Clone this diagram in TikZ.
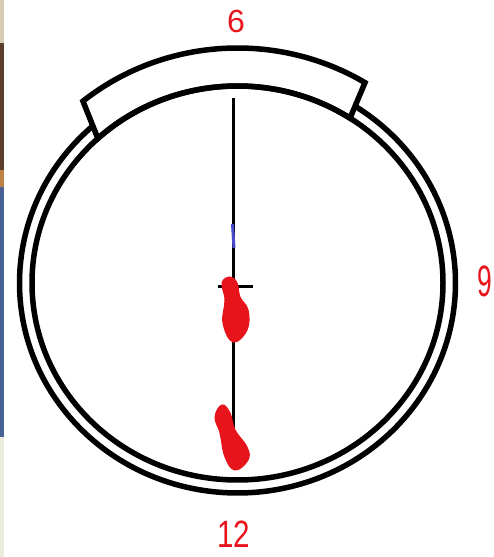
\documentclass[tikz,border=0pt]{standalone}
\usepackage{fontspec}
\setmainfont{Liberation Sans}
\usetikzlibrary{calc}
\definecolor{penred}{HTML}{E8141C}
\definecolor{penblue}{HTML}{4848C8}
\begin{document}
\begin{tikzpicture}[x=1pt,y=1pt,
  ring/.style={draw=black,line width=5.5pt},
  hand/.style={draw=black,line width=3pt},
  blob/.style={fill=penred,draw=penred,line width=1pt},
  numlabel/.style={text=penred,inner sep=0pt}]
\useasboundingbox (0,0) rectangle (493,557);
\fill[white] (0,0) rectangle (493,557);
% photo strip at left edge
\fill[color={rgb,255:red,214;green,204;blue,180}] (0,514) rectangle (4,557);
\fill[color={rgb,255:red,92;green,62;blue,44}] (0,387) rectangle (4,514);
\fill[color={rgb,255:red,190;green,130;blue,70}] (0,370) rectangle (4,387);
\fill[color={rgb,255:red,72;green,98;blue,150}] (0,120) rectangle (4,370);
\fill[color={rgb,255:red,236;green,236;blue,222}] (0,0) rectangle (4,120);
\coordinate (c) at (237.5,274);
% bar
\draw[ring,fill=white,line join=miter] ($(c)+(56.8:205.5 and 197)$) coordinate (barR)
  arc[start angle=56.8,end angle=132.8,x radius=205.5,y radius=197] coordinate (barL)
  -- ($(c)+(129.3:244 and 235)$) coordinate (barLo)
  arc[start angle=129.3,end angle=58.5,x radius=244,y radius=235] coordinate (barRo)
  -- cycle;
% inner ring
\draw[ring] (c) ellipse[x radius=205.5,y radius=197];
% outer ring (open under the bar)
\draw[ring] ($(c)+(131.5:218 and 210)$) coordinate (outL)
  arc[start angle=131.5,end angle=417.4,x radius=218,y radius=210] coordinate (outR);
% pointer line and tick
\coordinate (top) at (233,459);
\coordinate (bot) at (233,127);
\draw[hand] (top) -- (bot);
\coordinate (tickL) at (218,270);
\coordinate (tickR) at (253,270);
\draw[hand] (tickL) -- (tickR);
\coordinate (blueA) at (232.5,333);
\coordinate (blueB) at (234,309);
\draw[penblue,line width=3pt] (blueA) -- (blueB);
% red blobs
\fill[blob] plot[smooth cycle,tension=0.7] coordinates {(230,280) (222,274) (225,257) (223,234) (233,215) (247,227) (248,247) (240,260) (237,274)};
\fill[blob] plot[smooth cycle,tension=0.7] coordinates {(222,152) (215,140) (220,124) (225,100) (235,87) (248,97) (247,110) (235,127) (230,144)};
% labels
\node[numlabel,font=\fontsize{32}{32}\selectfont] (six) at (236,536) {6};
\node[numlabel,font=\fontsize{44}{44}\selectfont,xscale=0.6] (nine) at (485,276) {9};
\node[numlabel,font=\fontsize{38}{38}\selectfont,xscale=0.78] (twelve) at (234,23) {12};
\end{tikzpicture}
\end{document}
